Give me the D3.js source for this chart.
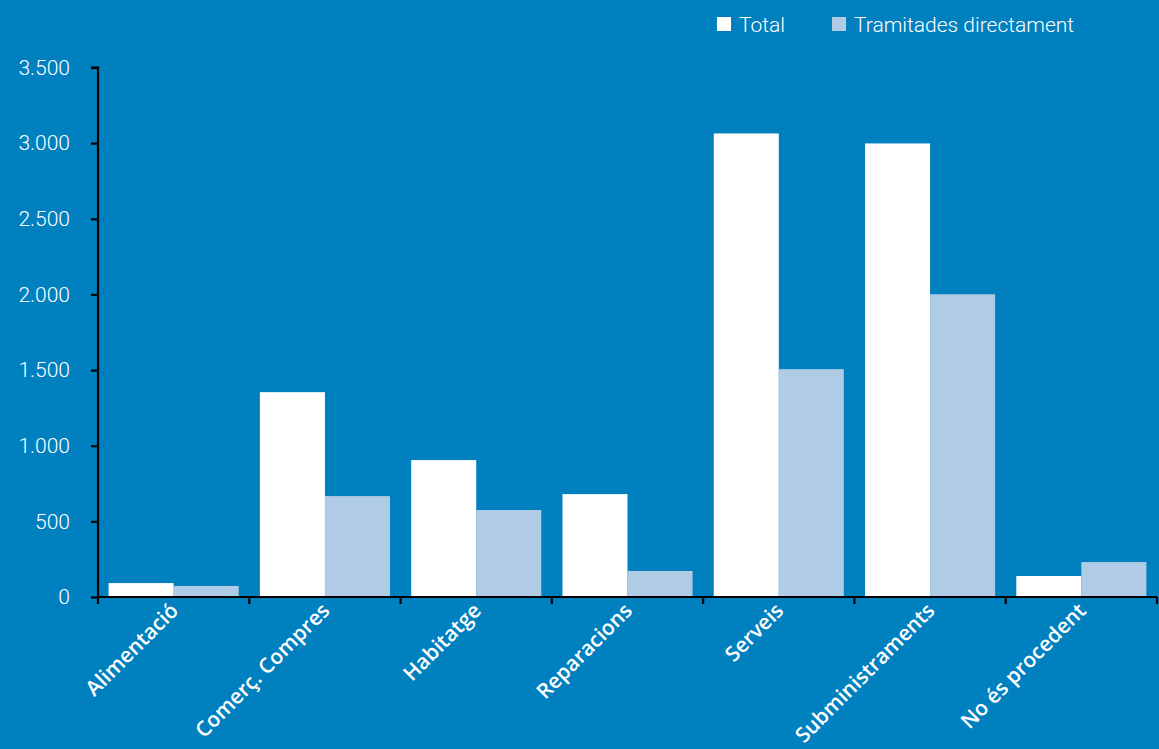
<!DOCTYPE html>
<html><head><meta charset="utf-8">
<script src="https://cdn.jsdelivr.net/npm/d3@7"></script>
<style>
html,body{margin:0;padding:0;background:#0080BF;}
svg{display:block;}
</style></head><body>
<svg id="chart" width="1159" height="749"></svg>
<script>
const categories = ["Alimentació","Comerç. Compres","Habitatge","Reparacions","Serveis","Subministraments","No és procedent"];
const totalValues = [92, 1354, 905, 680, 3064, 2998, 139];
const tramitadesValues = [73, 667, 575, 172, 1506, 2001, 231];
const seriesNames = ["Total","Tramitades directament"];
const yTicks = [0,500,1000,1500,2000,2500,3000,3500];

const colors = ["#FFFFFF","#B0CBE5"];
const svg = d3.select("#chart");
const W = 1159, H = 749;
svg.append("rect").attr("width",W).attr("height",H).attr("fill","#0080BF");

const x0 = 98, x1 = 1157, yTop = 67.5, yBot = 597;
const x = d3.scaleBand().domain(categories).range([x0,x1]).paddingInner(0).paddingOuter(0);
const inner = d3.scaleBand().domain(seriesNames).range([0,x.bandwidth()]).paddingInner(0).paddingOuter(0.163);
const y = d3.scaleLinear().domain([0,3500]).range([yBot,yTop]);

const fmt = d => d3.format(",")(d).replace(/,/g,".");

// bars
const data = categories.map((c,i)=>({cat:c, vals:[totalValues[i], tramitadesValues[i]]}));
const g = svg.append("g");
data.forEach(d=>{
  d.vals.forEach((v,j)=>{
    g.append("rect")
      .attr("x", x(d.cat)+inner(seriesNames[j]))
      .attr("y", y(v))
      .attr("width", inner.bandwidth())
      .attr("height", yBot - y(v))
      .attr("fill", colors[j]);
  });
});

// y axis
const yAxis = d3.axisLeft(y).tickValues(yTicks).tickFormat(fmt).tickSize(7).tickPadding(21);
const ya = svg.append("g").attr("transform",`translate(${x0},0)`).call(yAxis);
ya.select(".domain").attr("stroke","#000").attr("stroke-width",2.2).attr("d",`M-7,${yTop}H0V${yBot}`);
ya.selectAll(".tick line").attr("stroke","#000").attr("stroke-width",2.2);
ya.selectAll(".tick text").attr("fill","#fff").style("font-family","Roboto").style("font-weight","300").style("font-size","21px");

// x axis
const xAxis = d3.axisBottom(x).tickSize(0).tickFormat("");
const xa = svg.append("g").attr("transform",`translate(0,${yBot})`).call(xAxis);
xa.select(".domain").attr("stroke","#000").attr("stroke-width",2.2).attr("d",`M${x0},0H${x1}`);
const boundaries = d3.range(categories.length+1).map(i=>x0 + i*x.step());
xa.selectAll(".bnd").data(boundaries).enter().append("line")
  .attr("x1",d=>d).attr("x2",d=>d).attr("y1",0).attr("y2",7)
  .attr("stroke","#000").attr("stroke-width",2.2);
xa.selectAll(".lbl").data(categories).enter().append("text")
  .attr("transform",d=>`translate(${x(d)+x.bandwidth()/2+6},${15}) rotate(-45)`)
  .attr("text-anchor","end")
  .attr("fill","#fff")
  .style("font-family","Open Sans").style("font-weight","600").style("font-size","21px")
  .text(d=>d);

// legend
const legend = svg.append("g");
const legX = [717, 832];
seriesNames.forEach((s,i)=>{
  legend.append("rect").attr("x",legX[i]).attr("y",17).attr("width",14).attr("height",14).attr("fill",colors[i]);
  legend.append("text").attr("x",legX[i]+22).attr("y",32).attr("fill","#fff")
    .style("font-family","Roboto").style("font-weight","300").style("font-size","21px").text(s);
});
</script>
</body></html>
